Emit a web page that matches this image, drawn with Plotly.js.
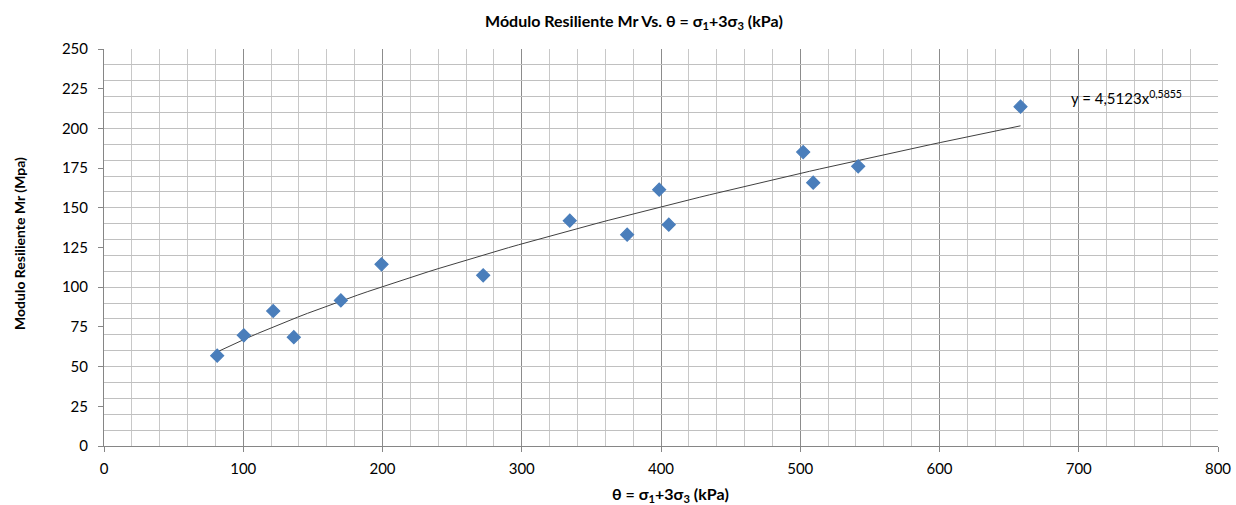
<!DOCTYPE html>
<html>
<head>
<meta charset="utf-8">
<script src="https://cdn.plot.ly/plotly-3.0.1.min.js"></script>
<style>html,body{margin:0;padding:0;background:#fff;}#chart{width:1236px;height:505px;}</style>
</head>
<body>
<div id="chart"></div>
<script>
// Data
const thetaKPa = [81.3, 100.4, 121.5, 136.3, 170.1, 199.3, 272.3, 334.5, 375.7, 398.7, 405.6, 502.1, 509.3, 541.6, 658.2];
const mrMPa    = [56.9, 69.7, 85.0, 68.5, 91.7, 114.4, 107.5, 141.9, 133.1, 161.4, 139.4, 185.1, 165.8, 176.1, 213.7];
// Power trendline coefficients shown on the chart: y = 4,5123 x^0,5855
const fitA = 4.5123;
const fitB = 0.5855;
const fitLabel = 'y = 4,5123x<sup>0,5855</sup>';
const xTickVals = [0, 100, 200, 300, 400, 500, 600, 700, 800];
const yTickVals = [0, 25, 50, 75, 100, 125, 150, 175, 200, 225, 250];

const xmin = Math.min(...thetaKPa), xmax = Math.max(...thetaKPa);
const trendX = [], trendY = [];
const n = 80;
for (let i = 0; i <= n; i++) {
  const x = xmin + (xmax - xmin) * i / n;
  trendX.push(x);
  trendY.push(fitA * Math.pow(x, fitB));
}

const font = 'Lato, "Open Sans", sans-serif';

const traces = [
  {x: trendX, y: trendY, type: 'scatter', mode: 'lines',
   line: {color: '#404040', width: 1}, hoverinfo: 'skip', showlegend: false},
  {x: thetaKPa, y: mrMPa, type: 'scatter', mode: 'markers',
   marker: {symbol: 'diamond', size: 10, color: '#4A7EBB', line: {width: 1.2, color: '#4A7EBB'}}, showlegend: false},
  {x: [], y: [], xaxis: 'x', yaxis: 'y2', type: 'scatter', mode: 'markers', showlegend: false, hoverinfo: 'skip'}
];

const layout = {
  width: 1236, height: 505,
  margin: {l: 104, r: 18, t: 49, b: 59},
  paper_bgcolor: '#ffffff', plot_bgcolor: '#ffffff',
  font: {family: font, color: '#000'},
  showlegend: false,
  title: {
    text: '<b>Módulo Resiliente Mr Vs. θ = σ<sub>1</sub>+3σ<sub>3</sub> (kPa)</b>',
    font: {family: font, size: 16, color: '#000'},
    x: 634 / 1236, xref: 'container', xanchor: 'center',
    y: 1 - 21 / 505, yref: 'container', yanchor: 'middle'
  },
  xaxis: {
    range: [0, 800], tickvals: xTickVals, ticktext: xTickVals.map(String),
    showgrid: true, gridcolor: '#8c8c8c', gridwidth: 1,
    minor: {dtick: 20, showgrid: true, gridcolor: '#c8c8c8', gridwidth: 1, ticks: ''},
    showline: true, linecolor: '#868686', linewidth: 1,
    ticks: 'outside', ticklen: 5, tickcolor: '#868686',
    ticklabelstandoff: 4,
    tickfont: {family: font, size: 15, color: '#000'},
    zeroline: false, fixedrange: true
  },
  yaxis: {
    range: [0, 250], dtick: 10, tick0: 0,
    showgrid: true, gridcolor: '#c0c0c0', gridwidth: 1,
    showticklabels: false, ticks: '', showline: false,
    zeroline: false, fixedrange: true
  },
  yaxis2: {
    overlaying: 'y', side: 'left', range: [0, 250],
    tickvals: yTickVals, ticktext: yTickVals.map(String),
    showgrid: false, zeroline: false,
    showline: true, linecolor: '#868686', linewidth: 1,
    ticks: 'outside', ticklen: 5, tickcolor: '#868686',
    ticklabelstandoff: 7,
    tickfont: {family: font, size: 15, color: '#000'},
    fixedrange: true
  },
  annotations: [
    {text: fitLabel, x: 693, y: 219.5, xref: 'x', yref: 'y', xanchor: 'left', yanchor: 'middle',
     showarrow: false, font: {family: font, size: 15, color: '#000'}},
    {text: '<b>θ = σ<sub>1</sub>+3σ<sub>3</sub> (kPa)</b>', x: 0, y: 0,
     xref: 'paper', yref: 'paper', xanchor: 'center', yanchor: 'middle', showarrow: false,
     font: {family: font, size: 16, color: '#000'}},
    {text: '<b>Modulo Resiliente Mr (Mpa)</b>', textangle: -90, x: 0, y: 0,
     xref: 'paper', yref: 'paper', xanchor: 'center', yanchor: 'middle', showarrow: false,
     font: {family: font, size: 14, color: '#000'}}
  ]
};
// convert pixel positions for axis-title annotations into paper coords
(function(){
  const L = 104, R = 1236 - 18, T = 49, B = 505 - 59;
  const ax = layout.annotations;
  ax[1].x = (670 - L) / (R - L); ax[1].y = (B - 494) / (B - T);
  ax[2].x = (20 - L) / (R - L);  ax[2].y = (B - 244) / (B - T);
})();

Plotly.newPlot('chart', traces, layout, {displayModeBar: false, staticPlot: true});
</script>
</body>
</html>
